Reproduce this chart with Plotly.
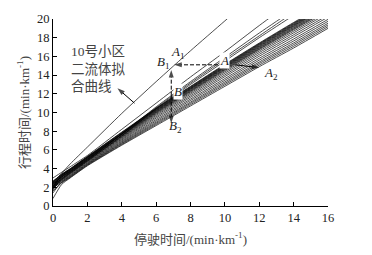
import plotly.graph_objects as go

# Stop time grid (min/km)
x_grid = [0, 0.5, 1, 2, 4, 6, 8, 10, 12, 14, 16]

# Curves above the main bundle (travel time, min/km)
curve_c1 = [2.5, 3.5, 4.5, 6.3, 9.9, 13.3, 16.6, 19.8, 23.0, 26.0, 29.0]
curve_c2 = [3.0, 3.6, 4.2, 5.4, 8.2, 11.0, 13.8, 16.5, 19.3, 22.0, 24.6]
curve_c3a = [2.2, 2.9, 3.6, 4.9, 7.7, 10.6, 13.3, 15.9, 18.5, 21.0, 23.6]
curve_c3b = [2.4, 3.1, 3.7, 5.0, 7.7, 10.5, 13.15, 15.7, 18.2, 20.7, 23.2]
curve_c3c = [2.0, 2.8, 3.5, 4.8, 7.5, 10.4, 13.0, 15.5, 18.0, 20.4, 22.9]

# Main bundle of fitted curves
bundle = [
    [0.8, 2.30, 3.00, 4.30, 6.50, 8.60, 10.70, 12.80, 14.90, 16.90, 19.00],
    [1.6, 2.46, 3.06, 4.36, 6.58, 8.72, 10.84, 12.96, 15.07, 17.08, 19.18],
    [2.0, 2.52, 3.12, 4.42, 6.67, 8.84, 10.98, 13.11, 15.24, 17.26, 19.36],
    [1.4, 2.58, 3.18, 4.48, 6.75, 8.96, 11.11, 13.27, 15.40, 17.44, 19.54],
    [2.2, 2.65, 3.25, 4.55, 6.85, 9.10, 11.28, 13.45, 15.60, 17.65, 19.75],
    [1.8, 2.72, 3.32, 4.62, 6.95, 9.24, 11.44, 13.63, 15.80, 17.86, 19.96],
    [2.4, 2.80, 3.40, 4.70, 7.06, 9.40, 11.62, 13.84, 16.02, 18.10, 20.20],
    [1.9, 2.87, 3.47, 4.77, 7.16, 9.54, 11.78, 14.02, 16.22, 18.31, 20.41],
    [2.1, 2.94, 3.54, 4.84, 7.26, 9.68, 11.94, 14.20, 16.41, 18.52, 20.62],
    [2.5, 3.00, 3.60, 4.90, 7.34, 9.80, 12.08, 14.36, 16.58, 18.70, 20.80],
    [1.7, 3.05, 3.65, 4.95, 7.41, 9.90, 12.20, 14.49, 16.72, 18.85, 20.95],
    [2.3, 3.10, 3.70, 5.00, 7.48, 9.98, 12.28, 14.58, 16.80, 18.94, 21.04],
    [2.0, 3.14, 3.74, 5.04, 7.54, 10.04, 12.35, 14.65, 16.88, 19.03, 21.13],
    [2.6, 3.18, 3.78, 5.08, 7.59, 10.10, 12.42, 14.73, 16.96, 19.12, 21.22],
    [2.2, 3.22, 3.82, 5.12, 7.65, 10.16, 12.49, 14.80, 17.04, 19.21, 21.31],
    [1.9, 3.25, 3.85, 5.15, 7.69, 10.21, 12.54, 14.86, 17.11, 19.28, 21.38],
    [2.4, 3.28, 3.88, 5.18, 7.73, 10.26, 12.59, 14.92, 17.18, 19.35, 21.45],
    [2.7, 3.31, 3.91, 5.21, 7.77, 10.31, 12.64, 14.98, 17.25, 19.42, 21.52],
    [2.1, 3.34, 3.94, 5.24, 7.82, 10.36, 12.70, 15.04, 17.31, 19.49, 21.59],
    [2.5, 3.37, 3.97, 5.27, 7.86, 10.41, 12.75, 15.10, 17.37, 19.56, 21.66],
    [2.6, 3.40, 4.00, 5.30, 7.90, 10.46, 12.80, 15.16, 17.43, 19.63, 21.73],
]

x_ticks = [0, 2, 4, 6, 8, 10, 12, 14, 16]
y_ticks = [0, 2, 4, 6, 8, 10, 12, 14, 16, 18, 20]

x_title = "停驶时间/(min·km<sup>-1</sup>)"
y_title = "行程时间/(min·km<sup>-1</sup>)"
note_text = "10号小区<br>二流体拟<br>合曲线"

SERIF = "Liberation Serif, Noto Sans CJK SC, serif"

fig = go.Figure()

for ys in [curve_c1, curve_c2, curve_c3a, curve_c3b, curve_c3c] + bundle:
    fig.add_trace(go.Scatter(
        x=x_grid, y=ys, mode="lines",
        line=dict(color="black", width=0.7, shape="spline", smoothing=0.6),
        hoverinfo="skip", showlegend=False,
    ))

# Arrows: (tail x, tail y, head x, head y, dashed?)
arrow_specs = [
    (9.6, 15.1, 7.05, 15.1, True),    # A -> B1
    (6.88, 11.8, 6.88, 14.55, True),  # up to B1
    (6.88, 11.8, 6.88, 8.85, True),   # down to B2
    (10.6, 15.1, 12.0, 14.8, False),  # A -> A2
    (4.74, 11.0, 3.75, 12.6, False),  # curve -> note text
]
for tx, ty, hx, hy, dashed in arrow_specs:
    fig.add_trace(go.Scatter(
        x=[tx, hx], y=[ty, hy], mode="lines+markers",
        line=dict(color="black", width=1, dash="4px,2px" if dashed else "solid"),
        marker=dict(symbol="arrow", size=[0, 8], angleref="previous", color="black",
                    line=dict(width=0)),
        hoverinfo="skip", showlegend=False,
    ))

ann = []
labels = [
    ("<i>A</i><sub>1</sub>", 7.3, 16.4, None),
    ("<i>B</i><sub>1</sub>", 6.4, 15.4, None),
    ("<i>A</i>", 9.95, 15.6, "white"),
    ("<i>A</i><sub>2</sub>", 12.7, 14.2, None),
    ("<i>B</i>", 7.3, 12.2, "white"),
    ("<i>B</i><sub>2</sub>", 7.1, 8.5, None),
]
for t, lx, ly, bg in labels:
    d = dict(x=lx, y=ly, xref="x", yref="y", text=t, showarrow=False,
             font=dict(family=SERIF, size=13, color="#222"))
    if bg:
        d["bgcolor"] = bg
        d["borderpad"] = 0
    ann.append(d)

ann.append(dict(x=2.65, y=14.7, xref="x", yref="y", text=note_text, showarrow=False,
                align="left", font=dict(family=SERIF, size=13.5, color="#444")))

fig.update_layout(
    width=364, height=247,
    margin=dict(l=45, r=44, t=11, b=49),
    paper_bgcolor="white", plot_bgcolor="white",
    annotations=ann,
    font=dict(family=SERIF, color="#222"),
    xaxis=dict(range=[0, 16], tickvals=x_ticks, ticks="inside", ticklen=4,
               showline=True, linecolor="black", linewidth=1.2, tickcolor="black",
               showgrid=False, zeroline=False, automargin=False,
               tickfont=dict(family=SERIF, size=12.5, color="#222"),
               title=dict(text=x_title, font=dict(family=SERIF, size=13, color="#444"), standoff=10)),
    yaxis=dict(range=[0, 20], tickvals=y_ticks, ticks="inside", ticklen=4,
               showline=True, linecolor="black", linewidth=1.2, tickcolor="black",
               showgrid=False, zeroline=False, automargin=False,
               tickfont=dict(family=SERIF, size=12.5, color="#222"),
               title=dict(text=y_title, font=dict(family=SERIF, size=13, color="#444"), standoff=4)),
)

fig.write_html("out.html")
